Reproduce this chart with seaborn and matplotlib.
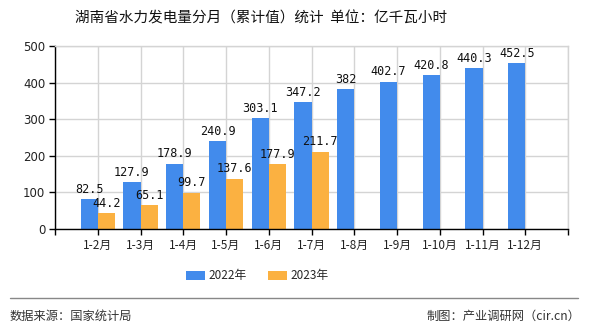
import numpy as np
import pandas as pd
import matplotlib
matplotlib.use("Agg")
import matplotlib.pyplot as plt
import seaborn as sns
from matplotlib.patches import Patch
from matplotlib.lines import Line2D

categories = ["1-2月", "1-3月", "1-4月", "1-5月", "1-6月", "1-7月",
              "1-8月", "1-9月", "1-10月", "1-11月", "1-12月"]
values_2022 = [82.5, 127.9, 178.9, 240.9, 303.1, 347.2, 382, 402.7, 420.8, 440.3, 452.5]
values_2023 = [44.2, 65.1, 99.7, 137.6, 177.9, 211.7]
series_names = ["2022年", "2023年"]
colors = ["#428BEC", "#FBB141"]
yticks = [0, 100, 200, 300, 400, 500]

sns.set_theme(style="white")
plt.rcParams['font.family'] = ['Noto Sans CJK SC', 'DejaVu Sans']

rows = []
for c, v in zip(categories, values_2022):
    rows.append({"cat": c, "series": series_names[0], "value": v})
for i, c in enumerate(categories):
    v = values_2023[i] if i < len(values_2023) else np.nan
    rows.append({"cat": c, "series": series_names[1], "value": v})
df = pd.DataFrame(rows)

fig = plt.figure(figsize=(5.9, 3.3), dpi=100)
ax = fig.add_axes([55/590, 1-229/330, (568-55)/590, (229-46)/330])

sns.barplot(data=df, x="cat", y="value", hue="series", order=categories,
            hue_order=series_names, palette=colors, width=0.8, saturation=1,
            ax=ax, legend=False, errorbar=None)

for p in ax.patches:
    p.set_edgecolor("none")
    p.set_linewidth(0)

ax.set_xlim(-1, 11)
ax.set_ylim(0, 500)
ax.set_yticks(yticks)
ax.set_yticklabels([str(t) for t in yticks], fontsize=8.5, color="#222222",
                   family=['DejaVu Sans'])
ax.set_xticks(range(-1, 12))
ax.set_xticklabels([""] + categories + [""], fontsize=8.5, color="#222222")
ax.set_xlabel("")
ax.set_ylabel("")

ax.grid(True, axis="both", color="#D4D4D4", linewidth=1)
ax.set_axisbelow(True)
for s in ["top", "right"]:
    ax.spines[s].set_color("#D4D4D4")
    ax.spines[s].set_linewidth(1)
for s in ["left", "bottom"]:
    ax.spines[s].set_color("#000000")
    ax.spines[s].set_linewidth(1)
ax.tick_params(axis="both", which="both", direction="out", length=4, width=1,
               color="#000000", pad=3, bottom=True, left=True)

# value labels
for cont, vals in zip(ax.containers, [values_2022, values_2023]):
    labels = [f"{v:g}" for v in vals] + [""] * (len(cont.patches) - len(vals))
    for p, lab in zip(cont.patches, labels):
        h = p.get_height()
        if lab and np.isfinite(h):
            ax.text(p.get_x() + p.get_width()/2, h + 9, lab, ha="center", va="bottom",
                    fontsize=8.5, family=['DejaVu Sans Mono'], color="#111111")

fig.text(261/590, 1-18/330, "湖南省水力发电量分月（累计值）统计  单位：亿千瓦小时",
         ha="center", va="center", fontsize=10.5, color="#111111")

handles = [Patch(facecolor=colors[0], edgecolor="none"),
           Patch(facecolor=colors[1], edgecolor="none")]
fig.legend(handles, series_names, loc="center", bbox_to_anchor=(257/590, 1-276/330),
           ncol=2, frameon=False, fontsize=8.5, handlelength=1.6, handleheight=0.8,
           columnspacing=1.8, handletextpad=0.3)

fig.add_artist(Line2D([10/590, 578/590], [1-298/330, 1-298/330],
                      color="#888888", linewidth=1, transform=fig.transFigure))
fig.text(10/590, 1-316/330, "数据来源：国家统计局", ha="left", va="center",
         fontsize=8.8, color="#333333")
fig.text(580/590, 1-316/330, "制图：产业调研网（cir.cn）", ha="right", va="center",
         fontsize=8.8, color="#333333")

fig.savefig("out.png", dpi=100)
